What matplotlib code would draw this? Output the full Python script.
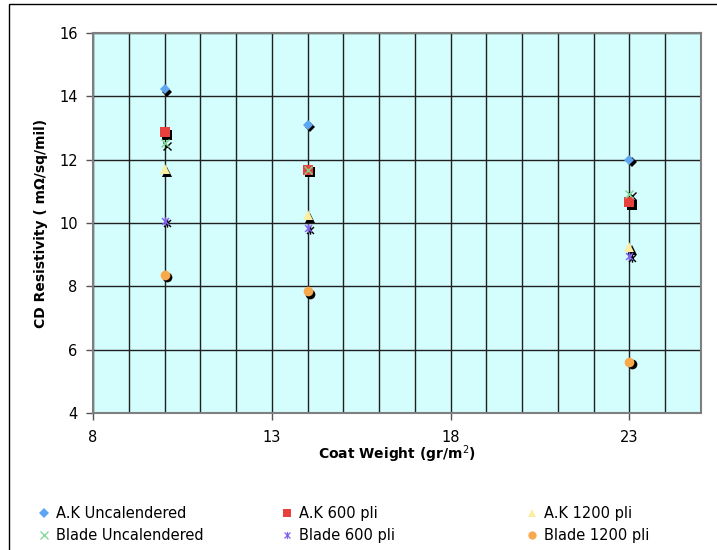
import numpy as np
import matplotlib
matplotlib.use("Agg")
from matplotlib import pyplot as plt
from matplotlib.path import Path
from matplotlib.lines import Line2D
from matplotlib.patches import Rectangle
from matplotlib.transforms import offset_copy

# coat weight (gr/m2)
coat_weight = [10, 14, 23]

ak_uncal = [14.23, 13.10, 12.00]
ak_600 = [12.86, 11.68, 10.65]
ak_1200 = [11.70, 10.24, 9.23]
blade_uncal = [12.52, 11.68, 10.93]
blade_600 = [10.07, 9.85, 8.97]
blade_1200 = [8.36, 7.85, 5.62]

labels = [
    "A.K Uncalendered", "A.K 600 pli", "A.K 1200 pli",
    "Blade Uncalendered", "Blade 600 pli", "Blade 1200 pli",
]
x_ticks = [8, 13, 18, 23]
y_ticks = [4, 6, 8, 10, 12, 14, 16]

# excel style star: X with a vertical bar
star = Path(
    [(-1, -1), (1, 1), (-1, 1), (1, -1), (0, -1.2), (0, 1.2)],
    [Path.MOVETO, Path.LINETO, Path.MOVETO, Path.LINETO, Path.MOVETO, Path.LINETO],
)

# marker, colour, size, filled
styles = [
    ("D", "#5ea6f2", 5.5, True),
    ("s", "#e8413d", 6.5, True),
    ("^", "#fbeea0", 7.0, True),
    ("x", "#7ad48e", 6.0, False),
    (star, "#8462ee", 6.0, False),
    ("o", "#f8a94c", 7.0, True),
]
series = [ak_uncal, ak_600, ak_1200, blade_uncal, blade_600, blade_1200]

fig = plt.figure(figsize=(7.17, 5.5), dpi=100)
ax = fig.add_axes([93 / 717, 1 - 413 / 550, 608 / 717, 380 / 550])
ax.set_facecolor("#d4fdfd")

shadow = offset_copy(ax.transData, fig=fig, x=2.5, y=-2.5, units="dots")

handles = []
for vals, (m, c, ms, filled) in zip(series, styles):
    # black drop shadow under each point
    ax.plot(coat_weight, vals, linestyle="none", marker=m, markersize=ms,
            color="black", markeredgewidth=0 if filled else 1.0,
            transform=shadow, zorder=3, clip_on=False)
    ax.plot(coat_weight, vals, linestyle="none", marker=m, markersize=ms,
            color=c, markeredgewidth=0 if filled else 1.0, zorder=4, clip_on=False)
    handles.append(Line2D([], [], linestyle="none", marker=m, color=c,
                          markersize=ms * 0.85, markeredgewidth=0 if filled else 0.9))

ax.set_xlim(8, 25)
ax.set_ylim(4, 16)
ax.set_xticks(x_ticks)
ax.set_xticks(np.arange(8, 26, 1), minor=True)
ax.set_yticks(y_ticks)
ax.grid(True, which="both", axis="x", color="#202020", linewidth=1.0)
ax.grid(True, which="major", axis="y", color="#202020", linewidth=1.0)
ax.set_axisbelow(True)
for s in ax.spines.values():
    s.set_color("#7f7f7f")
    s.set_linewidth(1.5)

ax.tick_params(axis="both", which="major", direction="out", length=5, width=1,
               color="#555555", labelsize=10.5, pad=6)
ax.tick_params(axis="x", which="minor", length=0)
ax.tick_params(axis="x", which="major", pad=7)

ax.set_xlabel("Coat Weight (gr/m$^2$)", fontsize=10, fontweight="bold", labelpad=-1)
ax.set_ylabel("CD Resistivity ( m\u03a9/sq/mil)", fontsize=10, fontweight="bold", labelpad=8)

# outer chart border (cut off at right and bottom like the source)
fig.patches.append(Rectangle((9 / 717, -0.1), 1.2, 1.1 - 4 / 550,
                             transform=fig.transFigure, fill=False,
                             edgecolor="black", linewidth=1.0))

col_x = [37, 280, 525]
for i, x0 in enumerate(col_x):
    fig.legend(handles=[handles[i], handles[i + 3]], labels=[labels[i], labels[i + 3]],
               loc="upper left", bbox_to_anchor=(x0 / 717, 1 - 506 / 550),
               frameon=False, fontsize=10.5, handlelength=0.9, handletextpad=0.4,
               borderpad=0, borderaxespad=0, labelspacing=0.5)

fig.savefig("out.png", dpi=100)
